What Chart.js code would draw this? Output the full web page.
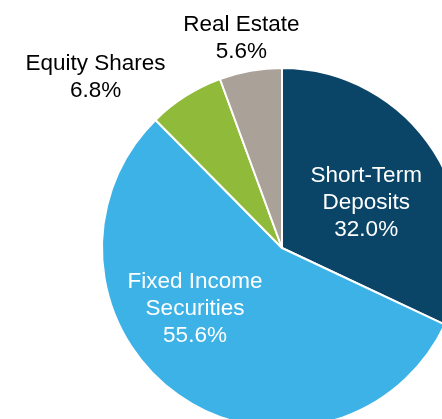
<!DOCTYPE html>
<html>
<head>
<meta charset="utf-8">
<script src="https://cdn.jsdelivr.net/npm/chart.js@4/dist/chart.umd.min.js"></script>
<style>
  html, body { margin: 0; padding: 0; background: #fff; overflow: hidden; }
  #wrap { width: 442px; height: 419px; overflow: hidden; position: relative; }
  canvas { position: absolute; left: 0; top: 0; }
</style>
</head>
<body>
<div id="wrap"><canvas id="chart" width="564" height="496"></canvas></div>
<script>
// Datos
const categorias = [["Short-Term", "Deposits"], ["Fixed Income", "Securities"], ["Equity Shares"], ["Real Estate"]];
const valores = [32.0, 55.6, 6.8, 5.6];
const colores = ['#0a4568', '#3db2e6', '#8fba3a', '#aaa198'];

// posicion de cada etiqueta: angulo (grados desde arriba, horario) y distancia relativa al radio
const etiquetas = [
  { ang: 62, r: 0.53, color: '#fff' },
  { ang: 235, r: 0.59, color: '#fff' },
  { ang: 312.5, r: 1.405, color: '#000' },
  { ang: 349, r: 1.185, color: '#000' }
];

const labelPlugin = {
  id: 'labels',
  afterDatasetsDraw(chart) {
    const ctx = chart.ctx;
    const arcs = chart.getDatasetMeta(0).data;
    ctx.save();
    ctx.font = '22.5px "Liberation Sans", Arial, sans-serif';
    ctx.textAlign = 'center';
    ctx.textBaseline = 'middle';
    arcs.forEach((arc, i) => {
      const e = etiquetas[i];
      const a = (e.ang - 90) * Math.PI / 180;
      const cx = arc.x + Math.cos(a) * arc.outerRadius * e.r;
      const cy = arc.y + Math.sin(a) * arc.outerRadius * e.r;
      const lines = categorias[i].concat([valores[i].toFixed(1) + '%']);
      const lh = 27;
      ctx.fillStyle = e.color;
      lines.forEach((t, k) => {
        ctx.fillText(t, cx, cy + (k - (lines.length - 1) / 2) * lh);
      });
    });
    ctx.restore();
  }
};

new Chart(document.getElementById('chart').getContext('2d'), {
  type: 'pie',
  data: {
    labels: categorias.map(c => c.join(' ')),
    datasets: [{ data: valores, backgroundColor: colores, borderColor: '#fff', borderWidth: 2 }]
  },
  options: {
    responsive: false,
    animation: false,
    radius: 180,
    layout: { padding: 0 },
    plugins: { legend: { display: false }, tooltip: { enabled: false } }
  },
  plugins: [labelPlugin]
});
</script>
</body>
</html>
